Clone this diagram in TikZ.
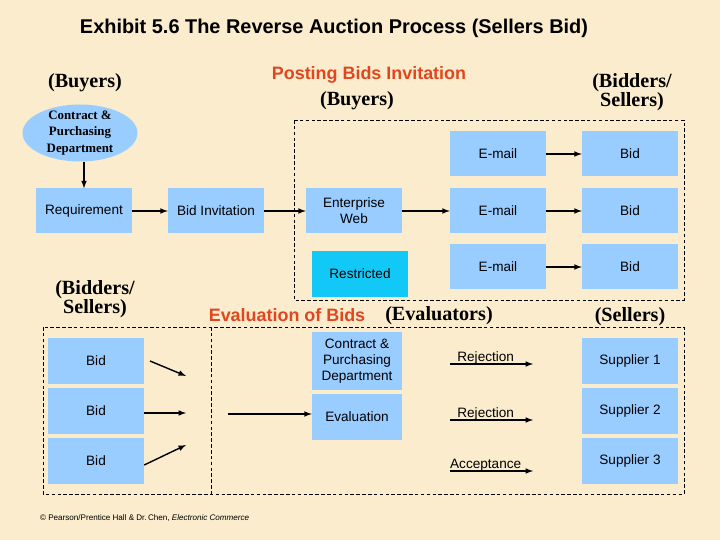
\documentclass[tikz,border=0pt]{standalone}
\usepackage{fontspec}
\setmainfont{Liberation Serif}
\setsansfont{Liberation Sans}
\usetikzlibrary{arrows,shapes.geometric}
\definecolor{parchment}{RGB}{250,236,204}
\definecolor{boxblue}{RGB}{153,204,255}
\definecolor{skyblue}{RGB}{18,200,246}
\definecolor{heading}{RGB}{226,70,30}

\begin{document}
\begin{tikzpicture}[x=0.03cm, y=-0.03cm]
    \tikzstyle{process box} = [rectangle, fill=boxblue, inner sep=1pt, minimum width=2.88cm, minimum height=1.35cm, align=center, font=\sffamily\fontsize{11.6}{13.6}\selectfont]
    \tikzstyle{narrow box} = [process box, minimum width=2.7cm]
    \tikzstyle{dept oval} = [ellipse, fill=boxblue, inner sep=0pt, minimum width=3.45cm, minimum height=1.71cm]
    \tikzstyle{party label} = [font=\bfseries\fontsize{17.2}{15.5}\selectfont, align=center]
    \tikzstyle{stage title} = [text=heading, font=\sffamily\bfseries\fontsize{15.3}{17}\selectfont]
    \tikzstyle{flow arrow} = [draw=black, line width=1.2pt, ->, >=latex]
    \tikzstyle{decision label} = [font=\sffamily\fontsize{11.6}{13.6}\selectfont, above=-4.5pt, pos=0.43]
    \tikzstyle{group frame} = [draw=black, line width=0.7pt, dash pattern=on 3pt off 2pt]
\fill[parchment] (0,0) rectangle (720,540);
\node[font=\sffamily\bfseries\fontsize{17}{19}\selectfont] (title) at (334,28) {Exhibit 5.6 The Reverse Auction Process (Sellers Bid)};
% posting bids invitation
\node[party label] (buyers) at (85,83) {(Buyers)};
\node[stage title] (posting) at (369,75) {Posting Bids Invitation};
\node[party label] (buyers2) at (357,101) {(Buyers)};
\node[party label] (bidders) at (632,92) {(Bidders/\\Sellers)};
\draw[group frame] (294,120) rectangle (684,300);
\node[dept oval, label={[align=center, font=\bfseries\fontsize{11}{14}\selectfont]center:Contract \&\\Purchasing\\Department}] (dept) at (80,133) {};
\node[process box] (req) at (84,211) {Requirement};
\node[process box] (inv) at (216,211) {Bid Invitation};
\node[process box] (web) at (354,211) {Enterprise\\Web};
\node[process box, fill=skyblue] (restricted) at (360,274) {Restricted};
\node[process box] (mail1) at (498,154) {E-mail};
\node[process box] (mail2) at (498,211) {E-mail};
\node[process box] (mail3) at (498,267) {E-mail};
\node[process box] (bid1) at (630,154) {Bid};
\node[process box] (bid2) at (630,211) {Bid};
\node[process box] (bid3) at (630,267) {Bid};
\draw[flow arrow] (dept.south -| req) to (req);
\draw[flow arrow] (req) to (inv);
\draw[flow arrow] (inv) to (web);
\draw[flow arrow] (web) to (mail2);
\draw[flow arrow] (mail1) to (bid1);
\draw[flow arrow] (mail2) to (bid2);
\draw[flow arrow] (mail3) to (bid3);
% evaluation of bids
\node[party label] (bidders2) at (95,299) {(Bidders/\\Sellers)};
\node[stage title] (evaluation) at (287,315) {Evaluation of Bids};
\node[party label] (evaluators) at (439,316) {(Evaluators)};
\node[party label] (sellers) at (630,317) {(Sellers)};
\draw[group frame] (43,327) rectangle (684,494);
\draw[group frame] (211,327) -- (211,494);
\node[process box] (sbid1) at (96,361) {Bid};
\node[process box] (sbid2) at (96,411) {Bid};
\node[process box] (sbid3) at (96,461) {Bid};
\coordinate (in1) at (186,376);
\coordinate (in2) at (186,413);
\coordinate (in3) at (186,445);
\coordinate (gather) at (228,414);
\node[narrow box, minimum height=1.71cm] (cpd) at (357,361) {Contract \&\\Purchasing\\Department};
\node[narrow box] (eval) at (357,417) {Evaluation};
\node[process box] (sup1) at (630,361) {Supplier 1};
\node[process box] (sup2) at (630,411) {Supplier 2};
\node[process box] (sup3) at (630,461) {Supplier 3};
\coordinate (rej1a) at (450,364);
\coordinate (rej1b) at (533,364);
\coordinate (rej2a) at (450,420);
\coordinate (rej2b) at (533,420);
\coordinate (acca) at (450,471);
\coordinate (accb) at (533,471);
\draw[flow arrow] (150,361) to (in1);
\draw[flow arrow] (sbid2.east |- in2) to (in2);
\draw[flow arrow] (sbid3.east |- 0,465) to (in3);
\draw[flow arrow] (gather) to (eval.west |- gather);
\draw[flow arrow] (rej1a) to node[decision label] {Rejection} (rej1b);
\draw[flow arrow] (rej2a) to node[decision label] {Rejection} (rej2b);
\draw[flow arrow] (acca) to node[decision label] {Acceptance} (accb);
\node[anchor=west, font=\sffamily\fontsize{6.9}{8}\selectfont] (credit) at (36,518) {\textcopyright{} Pearson/Prentice Hall \& Dr.\,Chen, \textit{Electronic Commerce}};
\end{tikzpicture}
\end{document}
